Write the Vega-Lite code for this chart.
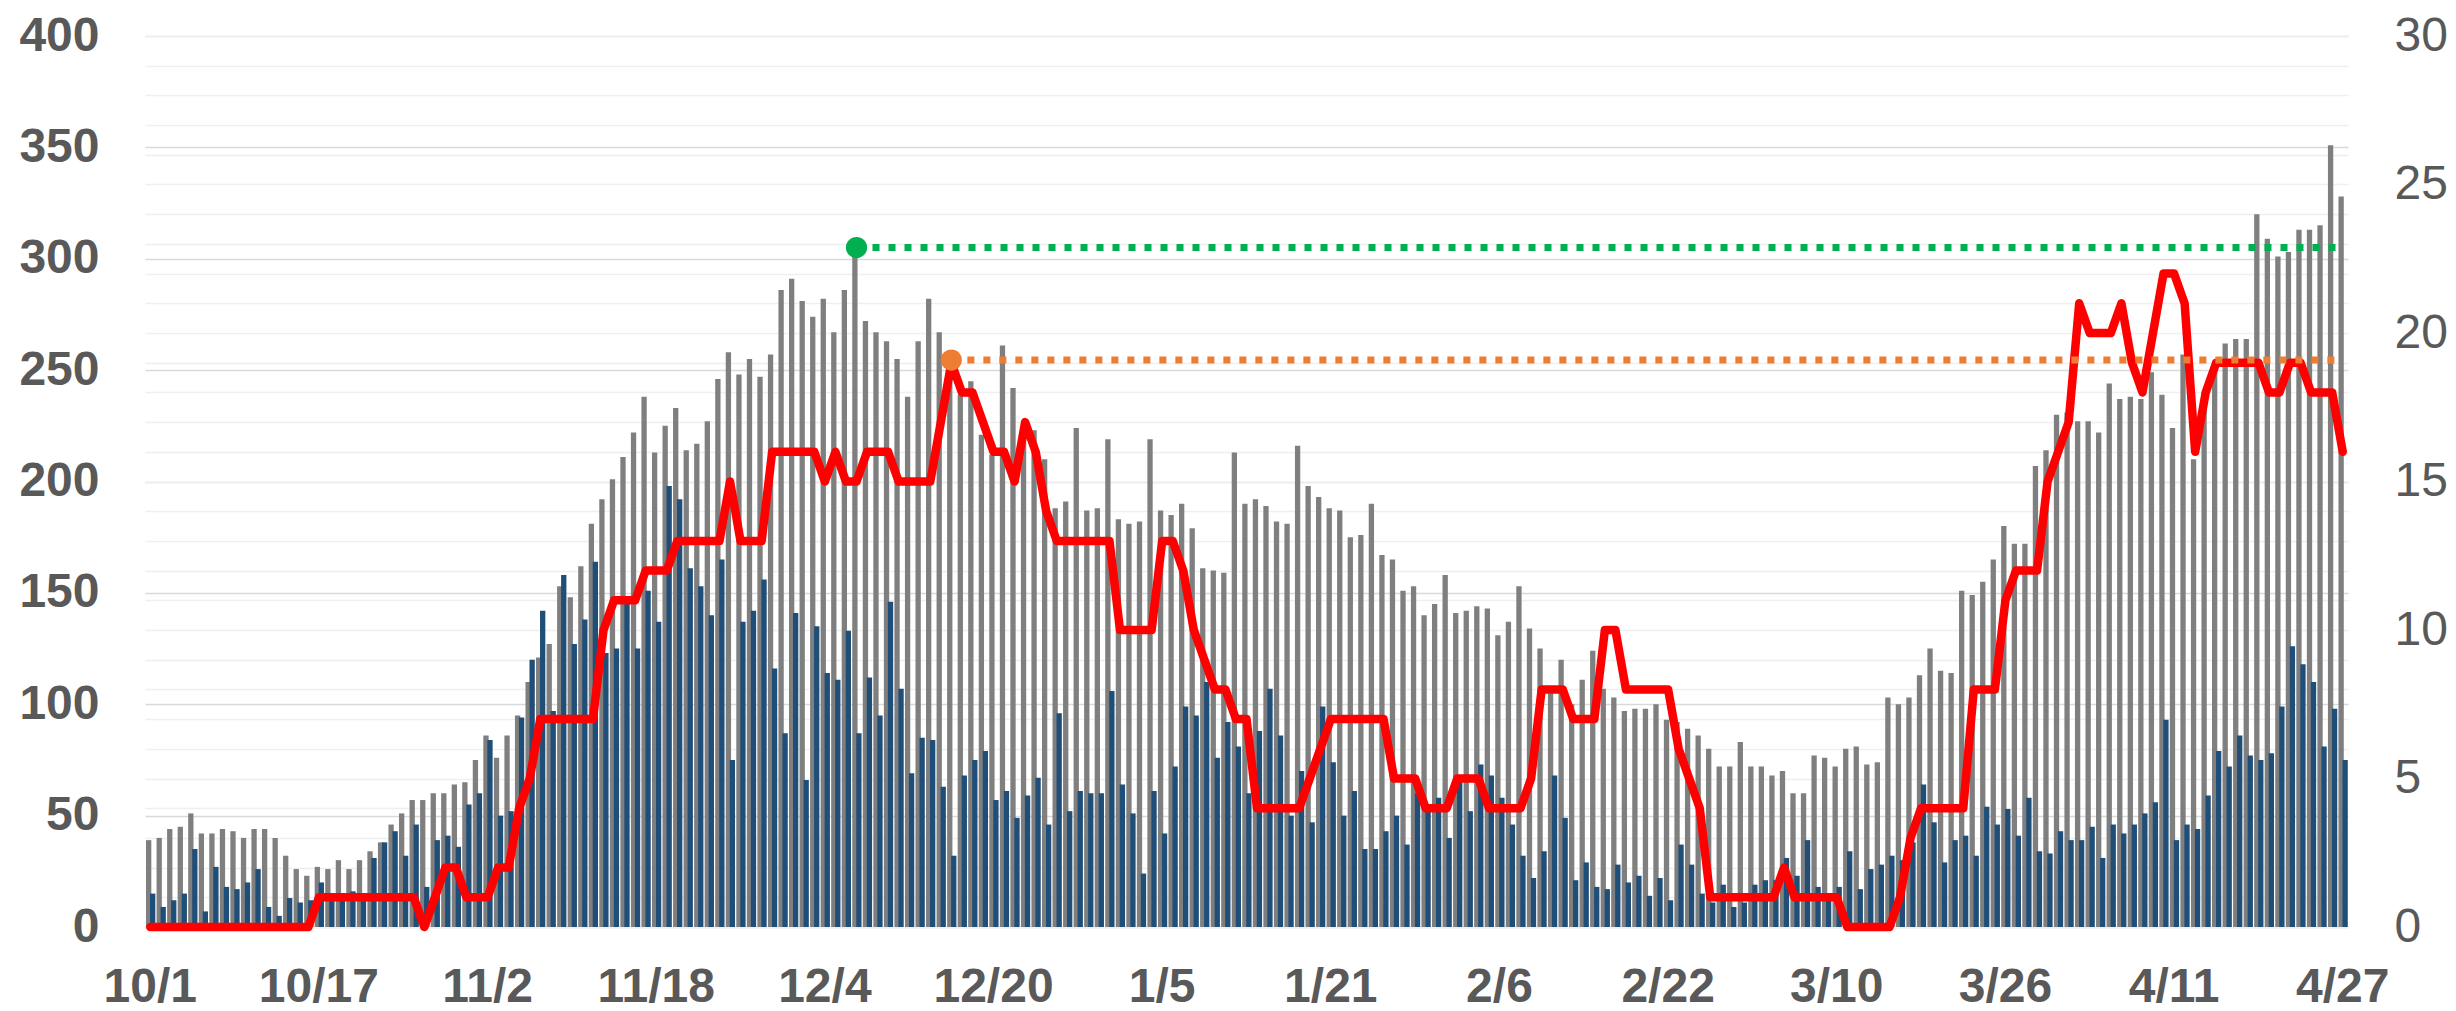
{
"$schema": "https://vega.github.io/schema/vega-lite/v6.json",
"width": 2203,
"height": 891,
"autosize": {"type": "none"},
"padding": {"left": 145, "top": 36, "right": 108, "bottom": 84},
"background": "white",
"config": {"view": {"stroke": null}, "axis": {"labelFont": "Liberation Sans", "labelColor": "#595959", "labelFontSize": 48, "ticks": false, "domain": false, "title": null, "labelLimit": 0}},
"datasets": {
"daily": [
{"date":"2020-10-01","total":39,"sub":15,"rate":0},{"date":"2020-10-02","total":40,"sub":9,"rate":0},{"date":"2020-10-03","total":44,"sub":12,"rate":0},{"date":"2020-10-04","total":45,"sub":15,"rate":0},{"date":"2020-10-05","total":51,"sub":35,"rate":0},{"date":"2020-10-06","total":42,"sub":7,"rate":0},{"date":"2020-10-07","total":42,"sub":27,"rate":0},{"date":"2020-10-08","total":44,"sub":18,"rate":0},{"date":"2020-10-09","total":43,"sub":17,"rate":0},{"date":"2020-10-10","total":40,"sub":20,"rate":0},
{"date":"2020-10-11","total":44,"sub":26,"rate":0},{"date":"2020-10-12","total":44,"sub":9,"rate":0},{"date":"2020-10-13","total":40,"sub":5,"rate":0},{"date":"2020-10-14","total":32,"sub":13,"rate":0},{"date":"2020-10-15","total":26,"sub":11,"rate":0},{"date":"2020-10-16","total":23,"sub":12,"rate":0},{"date":"2020-10-17","total":27,"sub":20,"rate":1},{"date":"2020-10-18","total":26,"sub":12,"rate":1},{"date":"2020-10-19","total":30,"sub":15,"rate":1},{"date":"2020-10-20","total":26,"sub":16,"rate":1},
{"date":"2020-10-21","total":30,"sub":13,"rate":1},{"date":"2020-10-22","total":34,"sub":31,"rate":1},{"date":"2020-10-23","total":38,"sub":38,"rate":1},{"date":"2020-10-24","total":46,"sub":43,"rate":1},{"date":"2020-10-25","total":51,"sub":32,"rate":1},{"date":"2020-10-26","total":57,"sub":46,"rate":1},{"date":"2020-10-27","total":57,"sub":18,"rate":0},{"date":"2020-10-28","total":60,"sub":39,"rate":1},{"date":"2020-10-29","total":60,"sub":41,"rate":2},{"date":"2020-10-30","total":64,"sub":36,"rate":2},
{"date":"2020-10-31","total":65,"sub":55,"rate":1},
{"date":"2020-11-01","total":75,"sub":60,"rate":1},{"date":"2020-11-02","total":86,"sub":84,"rate":1},{"date":"2020-11-03","total":76,"sub":50,"rate":2},{"date":"2020-11-04","total":86,"sub":52,"rate":2},{"date":"2020-11-05","total":95,"sub":94,"rate":4},{"date":"2020-11-06","total":110,"sub":120,"rate":5},{"date":"2020-11-07","total":121,"sub":142,"rate":7},{"date":"2020-11-08","total":127,"sub":97,"rate":7},{"date":"2020-11-09","total":153,"sub":158,"rate":7},{"date":"2020-11-10","total":148,"sub":127,"rate":7},
{"date":"2020-11-11","total":162,"sub":138,"rate":7},{"date":"2020-11-12","total":181,"sub":164,"rate":7},{"date":"2020-11-13","total":192,"sub":123,"rate":10},{"date":"2020-11-14","total":201,"sub":125,"rate":11},{"date":"2020-11-15","total":211,"sub":146,"rate":11},{"date":"2020-11-16","total":222,"sub":125,"rate":11},{"date":"2020-11-17","total":238,"sub":151,"rate":12},{"date":"2020-11-18","total":213,"sub":137,"rate":12},{"date":"2020-11-19","total":225,"sub":198,"rate":12},{"date":"2020-11-20","total":233,"sub":192,"rate":13},
{"date":"2020-11-21","total":214,"sub":161,"rate":13},{"date":"2020-11-22","total":217,"sub":153,"rate":13},{"date":"2020-11-23","total":227,"sub":140,"rate":13},{"date":"2020-11-24","total":246,"sub":165,"rate":13},{"date":"2020-11-25","total":258,"sub":75,"rate":15},{"date":"2020-11-26","total":248,"sub":137,"rate":13},{"date":"2020-11-27","total":255,"sub":142,"rate":13},{"date":"2020-11-28","total":247,"sub":156,"rate":13},{"date":"2020-11-29","total":257,"sub":116,"rate":16},{"date":"2020-11-30","total":286,"sub":87,"rate":16},
{"date":"2020-12-01","total":291,"sub":141,"rate":16},{"date":"2020-12-02","total":281,"sub":66,"rate":16},{"date":"2020-12-03","total":274,"sub":135,"rate":16},{"date":"2020-12-04","total":282,"sub":114,"rate":15},{"date":"2020-12-05","total":267,"sub":111,"rate":16},{"date":"2020-12-06","total":286,"sub":133,"rate":15},{"date":"2020-12-07","total":305,"sub":87,"rate":15},{"date":"2020-12-08","total":272,"sub":112,"rate":16},{"date":"2020-12-09","total":267,"sub":95,"rate":16},{"date":"2020-12-10","total":263,"sub":146,"rate":16},
{"date":"2020-12-11","total":255,"sub":107,"rate":15},{"date":"2020-12-12","total":238,"sub":69,"rate":15},{"date":"2020-12-13","total":263,"sub":85,"rate":15},{"date":"2020-12-14","total":282,"sub":84,"rate":15},{"date":"2020-12-15","total":267,"sub":63,"rate":17},{"date":"2020-12-16","total":252,"sub":32,"rate":19},{"date":"2020-12-17","total":239,"sub":68,"rate":18},{"date":"2020-12-18","total":245,"sub":75,"rate":18},{"date":"2020-12-19","total":221,"sub":79,"rate":17},{"date":"2020-12-20","total":212,"sub":57,"rate":16},
{"date":"2020-12-21","total":261,"sub":61,"rate":16},{"date":"2020-12-22","total":242,"sub":49,"rate":15},{"date":"2020-12-23","total":223,"sub":59,"rate":17},{"date":"2020-12-24","total":223,"sub":67,"rate":16},{"date":"2020-12-25","total":210,"sub":46,"rate":14},{"date":"2020-12-26","total":188,"sub":96,"rate":13},{"date":"2020-12-27","total":191,"sub":52,"rate":13},{"date":"2020-12-28","total":224,"sub":61,"rate":13},{"date":"2020-12-29","total":187,"sub":60,"rate":13},{"date":"2020-12-30","total":188,"sub":60,"rate":13},
{"date":"2020-12-31","total":219,"sub":106,"rate":13},
{"date":"2021-01-01","total":183,"sub":64,"rate":10},{"date":"2021-01-02","total":181,"sub":51,"rate":10},{"date":"2021-01-03","total":182,"sub":24,"rate":10},{"date":"2021-01-04","total":219,"sub":61,"rate":10},{"date":"2021-01-05","total":187,"sub":42,"rate":13},{"date":"2021-01-06","total":185,"sub":72,"rate":13},{"date":"2021-01-07","total":190,"sub":99,"rate":12},{"date":"2021-01-08","total":179,"sub":95,"rate":10},{"date":"2021-01-09","total":161,"sub":110,"rate":9},{"date":"2021-01-10","total":160,"sub":76,"rate":8},
{"date":"2021-01-11","total":159,"sub":92,"rate":8},{"date":"2021-01-12","total":213,"sub":81,"rate":7},{"date":"2021-01-13","total":190,"sub":60,"rate":7},{"date":"2021-01-14","total":192,"sub":88,"rate":4},{"date":"2021-01-15","total":189,"sub":107,"rate":4},{"date":"2021-01-16","total":182,"sub":86,"rate":4},{"date":"2021-01-17","total":181,"sub":50,"rate":4},{"date":"2021-01-18","total":216,"sub":70,"rate":4},{"date":"2021-01-19","total":198,"sub":47,"rate":5},{"date":"2021-01-20","total":193,"sub":99,"rate":6},
{"date":"2021-01-21","total":188,"sub":74,"rate":7},{"date":"2021-01-22","total":187,"sub":50,"rate":7},{"date":"2021-01-23","total":175,"sub":61,"rate":7},{"date":"2021-01-24","total":176,"sub":35,"rate":7},{"date":"2021-01-25","total":190,"sub":35,"rate":7},{"date":"2021-01-26","total":167,"sub":43,"rate":7},{"date":"2021-01-27","total":165,"sub":50,"rate":5},{"date":"2021-01-28","total":151,"sub":37,"rate":5},{"date":"2021-01-29","total":153,"sub":60,"rate":5},{"date":"2021-01-30","total":140,"sub":54,"rate":4},
{"date":"2021-01-31","total":145,"sub":58,"rate":4},
{"date":"2021-02-01","total":158,"sub":40,"rate":4},{"date":"2021-02-02","total":141,"sub":66,"rate":5},{"date":"2021-02-03","total":142,"sub":52,"rate":5},{"date":"2021-02-04","total":144,"sub":73,"rate":5},{"date":"2021-02-05","total":143,"sub":68,"rate":4},{"date":"2021-02-06","total":131,"sub":58,"rate":4},{"date":"2021-02-07","total":137,"sub":46,"rate":4},{"date":"2021-02-08","total":153,"sub":32,"rate":4},{"date":"2021-02-09","total":134,"sub":22,"rate":5},{"date":"2021-02-10","total":125,"sub":34,"rate":8},
{"date":"2021-02-11","total":105,"sub":68,"rate":8},{"date":"2021-02-12","total":120,"sub":49,"rate":8},{"date":"2021-02-13","total":100,"sub":21,"rate":7},{"date":"2021-02-14","total":111,"sub":29,"rate":7},{"date":"2021-02-15","total":124,"sub":18,"rate":7},{"date":"2021-02-16","total":107,"sub":17,"rate":10},{"date":"2021-02-17","total":103,"sub":28,"rate":10},{"date":"2021-02-18","total":97,"sub":20,"rate":8},{"date":"2021-02-19","total":98,"sub":23,"rate":8},{"date":"2021-02-20","total":98,"sub":14,"rate":8},
{"date":"2021-02-21","total":100,"sub":22,"rate":8},{"date":"2021-02-22","total":93,"sub":12,"rate":8},{"date":"2021-02-23","total":92,"sub":37,"rate":6},{"date":"2021-02-24","total":89,"sub":28,"rate":5},{"date":"2021-02-25","total":86,"sub":15,"rate":4},{"date":"2021-02-26","total":80,"sub":11,"rate":1},{"date":"2021-02-27","total":72,"sub":19,"rate":1},{"date":"2021-02-28","total":72,"sub":9,"rate":1},
{"date":"2021-03-01","total":83,"sub":11,"rate":1},{"date":"2021-03-02","total":72,"sub":19,"rate":1},{"date":"2021-03-03","total":72,"sub":21,"rate":1},{"date":"2021-03-04","total":68,"sub":21,"rate":1},{"date":"2021-03-05","total":70,"sub":31,"rate":2},{"date":"2021-03-06","total":60,"sub":23,"rate":1},{"date":"2021-03-07","total":60,"sub":39,"rate":1},{"date":"2021-03-08","total":77,"sub":18,"rate":1},{"date":"2021-03-09","total":76,"sub":14,"rate":1},{"date":"2021-03-10","total":72,"sub":18,"rate":1},
{"date":"2021-03-11","total":80,"sub":34,"rate":0},{"date":"2021-03-12","total":81,"sub":17,"rate":0},{"date":"2021-03-13","total":73,"sub":26,"rate":0},{"date":"2021-03-14","total":74,"sub":28,"rate":0},{"date":"2021-03-15","total":103,"sub":32,"rate":0},{"date":"2021-03-16","total":100,"sub":30,"rate":1},{"date":"2021-03-17","total":103,"sub":38,"rate":3},{"date":"2021-03-18","total":113,"sub":64,"rate":4},{"date":"2021-03-19","total":125,"sub":47,"rate":4},{"date":"2021-03-20","total":115,"sub":29,"rate":4},
{"date":"2021-03-21","total":114,"sub":39,"rate":4},{"date":"2021-03-22","total":151,"sub":41,"rate":4},{"date":"2021-03-23","total":149,"sub":32,"rate":8},{"date":"2021-03-24","total":155,"sub":54,"rate":8},{"date":"2021-03-25","total":165,"sub":46,"rate":8},{"date":"2021-03-26","total":180,"sub":53,"rate":11},{"date":"2021-03-27","total":172,"sub":41,"rate":12},{"date":"2021-03-28","total":172,"sub":58,"rate":12},{"date":"2021-03-29","total":207,"sub":34,"rate":12},{"date":"2021-03-30","total":214,"sub":33,"rate":15},
{"date":"2021-03-31","total":230,"sub":43,"rate":16},
{"date":"2021-04-01","total":231,"sub":39,"rate":17},{"date":"2021-04-02","total":227,"sub":39,"rate":21},{"date":"2021-04-03","total":227,"sub":45,"rate":20},{"date":"2021-04-04","total":222,"sub":31,"rate":20},{"date":"2021-04-05","total":244,"sub":46,"rate":20},{"date":"2021-04-06","total":237,"sub":42,"rate":21},{"date":"2021-04-07","total":238,"sub":46,"rate":19},{"date":"2021-04-08","total":237,"sub":51,"rate":18},{"date":"2021-04-09","total":249,"sub":56,"rate":20},{"date":"2021-04-10","total":239,"sub":93,"rate":22},
{"date":"2021-04-11","total":224,"sub":39,"rate":22},{"date":"2021-04-12","total":257,"sub":46,"rate":21},{"date":"2021-04-13","total":210,"sub":44,"rate":16},{"date":"2021-04-14","total":240,"sub":59,"rate":18},{"date":"2021-04-15","total":254,"sub":79,"rate":19},{"date":"2021-04-16","total":262,"sub":72,"rate":19},{"date":"2021-04-17","total":264,"sub":86,"rate":19},{"date":"2021-04-18","total":264,"sub":77,"rate":19},{"date":"2021-04-19","total":320,"sub":75,"rate":19},{"date":"2021-04-20","total":309,"sub":78,"rate":18},
{"date":"2021-04-21","total":301,"sub":99,"rate":18},{"date":"2021-04-22","total":303,"sub":126,"rate":19},{"date":"2021-04-23","total":313,"sub":118,"rate":19},{"date":"2021-04-24","total":313,"sub":110,"rate":18},{"date":"2021-04-25","total":315,"sub":81,"rate":18},{"date":"2021-04-26","total":351,"sub":98,"rate":18},{"date":"2021-04-27","total":328,"sub":75,"rate":16}
],
"peaks": [
{"start":"2020-12-07","end":"2021-04-27","level":305,"series":"total peak"},
{"start":"2020-12-16","end":"2021-04-27","level":254.5,"series":"rate peak"}
]
},
"layer": [
{
"data": {"name": "daily"},
"encoding": {
"x": {"field": "date", "timeUnit": "utcyearmonthdate", "type": "ordinal",
"scale": {"paddingInner": 0, "paddingOuter": 0},
"axis": {"values": [1601510400000,1602892800000,1604275200000,1605657600000,1607040000000,1608422400000,1609804800000,1611187200000,1612569600000,1613952000000,1615334400000,1616716800000,1618099200000,1619481600000],
"labelExpr": "utcFormat(datum.value, '%-m/%-d')", "labelAngle": 0, "labelFontWeight": "bold", "labelPadding": 36, "grid": false, "labelOverlap": false}}
},
"layer": [
{"mark": {"type": "bar", "color": "#7F7F7F", "width": 5.3, "xOffset": -1.6},
"encoding": {"y": {"field": "total", "type": "quantitative", "scale": {"domain": [0, 400], "nice": false},
"axis": {"orient": "left", "values": [0,50,100,150,200,250,300,350,400], "grid": true, "gridColor": "#D9D9D9", "gridWidth": 1.5, "labelFontWeight": "bold", "labelPadding": 46}}}},
{"mark": {"type": "bar", "color": "#1F4E79", "width": 5.3, "xOffset": 2.4},
"encoding": {"y": {"field": "sub", "type": "quantitative"}}}
]
},
{
"data": {"name": "daily"},
"mark": {"type": "line", "color": "#FF0000", "strokeWidth": 8.5, "strokeJoin": "round", "strokeCap": "round"},
"encoding": {
"x": {"field": "date", "timeUnit": "utcyearmonthdate", "type": "ordinal"},
"y": {"field": "rate", "type": "quantitative", "scale": {"domain": [0, 30], "nice": false},
"axis": {"orient": "right", "values": [0,1,2,3,4,5,6,7,8,9,10,11,12,13,14,15,16,17,18,19,20,21,22,23,24,25,26,27,28,29,30],
"labelExpr": "datum.value % 5 === 0 ? datum.label : ''", "grid": true, "gridColor": "#EFEFEF", "gridWidth": 1.5, "labelPadding": 46}}
}
},
{
"data": {"name": "peaks"},
"encoding": {
"x": {"field": "start", "timeUnit": "utcyearmonthdate", "type": "ordinal"},
"y": {"field": "level", "type": "quantitative", "scale": {"domain": [0, 400], "nice": false}, "axis": null},
"color": {"field": "series", "type": "nominal", "scale": {"domain": ["total peak", "rate peak"], "range": ["#00B050", "#ED7D31"]}, "legend": null}
},
"layer": [
{"mark": {"type": "rule", "strokeWidth": 7, "strokeDash": [7, 9]},
"encoding": {"x2": {"field": "end", "timeUnit": "utcyearmonthdate"}}},
{"mark": {"type": "point", "filled": true, "opacity": 1, "size": 450, "shape": "circle"}}
]
}
],
"resolve": {"scale": {"y": "independent"}}
}
